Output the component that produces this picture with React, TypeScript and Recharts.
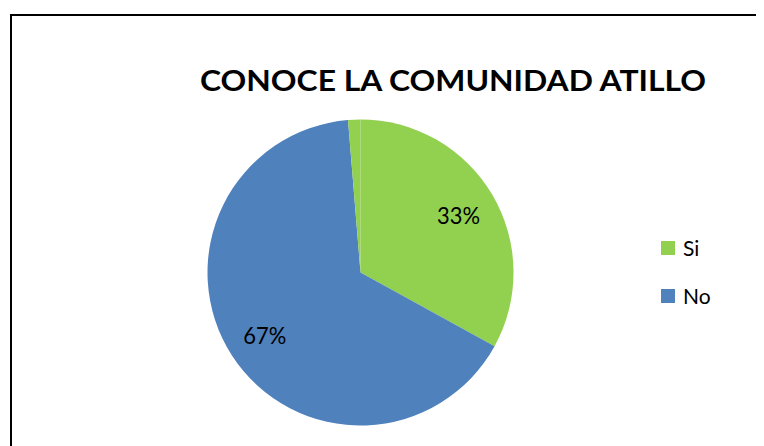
import React from "react";
import { PieChart, Pie, Cell, Legend } from "recharts";

const categories = ["Si", "No", ""];
const values = [33, 65.7, 1.3];
const labelTexts = ["33%", "67%", ""];
const colors = ["#92D050", "#4F81BD", "#92D050"];
const title = "CONOCE LA COMUNIDAD ATILLO";

const data = categories.map((name, i) => ({ name, value: values[i], label: labelTexts[i] }));

const RAD = Math.PI / 180;

const renderLabel = (props: any) => {
  const { cx, cy, midAngle, outerRadius, index } = props;
  const text = labelTexts[index];
  if (!text) return null;
  const r = outerRadius * 0.745;
  const x = cx + r * Math.cos(-midAngle * RAD);
  const y = cy + r * Math.sin(-midAngle * RAD);
  return (
    <text
      x={x}
      y={y}
      fill="#000"
      textAnchor="middle"
      dominantBaseline="central"
      fontFamily="Lato, 'Open Sans', sans-serif"
      fontSize={24}
      textLength={43}
      lengthAdjust="spacingAndGlyphs"
    >
      {text}
    </text>
  );
};

const renderLegend = (props: any) => {
  const payload = (props.payload || [])
    .filter((p: any) => p.value)
    .slice()
    .sort((a: any, b: any) => categories.indexOf(a.value) - categories.indexOf(b.value));
  return (
    <div style={{ position: "relative", width: 80, height: 80 }}>
      {payload.map((p: any, i: number) => (
        <div key={i} style={{ position: "absolute", left: 0, top: i * 48, height: 14, width: 80 }}>
          <div style={{ position: "absolute", left: 0, top: 0, width: 14, height: 14, background: p.color }} />
          <div
            style={{
              position: "absolute",
              left: 22,
              top: -5,
              fontFamily: "Lato, 'Open Sans', sans-serif",
              fontSize: 21,
              lineHeight: "24px",
              color: "#000",
              whiteSpace: "nowrap",
            }}
          >
            {p.value}
          </div>
        </div>
      ))}
    </div>
  );
};

export default function App() {
  return (
    <div style={{ position: "relative", width: 756, height: 438, overflow: "hidden" }}>
      <PieChart width={756} height={438} margin={{ top: 0, right: 0, bottom: 0, left: 0 }}>
        <Pie
          data={data}
          dataKey="value"
          nameKey="name"
          cx={352.5}
          cy={264.5}
          outerRadius={153}
          startAngle={90}
          endAngle={-270}
          stroke="none"
          label={renderLabel}
          labelLine={false}
          isAnimationActive={false}
        >
          {data.map((d, i) => (
            <Cell key={i} fill={colors[i]} />
          ))}
        </Pie>
        <Legend
          content={renderLegend}
          itemSorter={null as any}
          wrapperStyle={{ position: "absolute", left: 653, top: 233, width: 80, height: 80 }}
        />
      </PieChart>
      <svg
        width={756}
        height={438}
        style={{ position: "absolute", left: 0, top: 0, pointerEvents: "none" }}
      >
        <rect x={3} y={7} width={900} height={600} fill="none" stroke="#000" strokeWidth={2} />
        <text
          x={445}
          y={83}
          textAnchor="middle"
          fontFamily="Lato, 'Open Sans', sans-serif"
          fontWeight="bold"
          fontSize={29}
          textLength={506}
          lengthAdjust="spacingAndGlyphs"
          fill="#000"
        >
          {title}
        </text>
      </svg>
    </div>
  );
}
